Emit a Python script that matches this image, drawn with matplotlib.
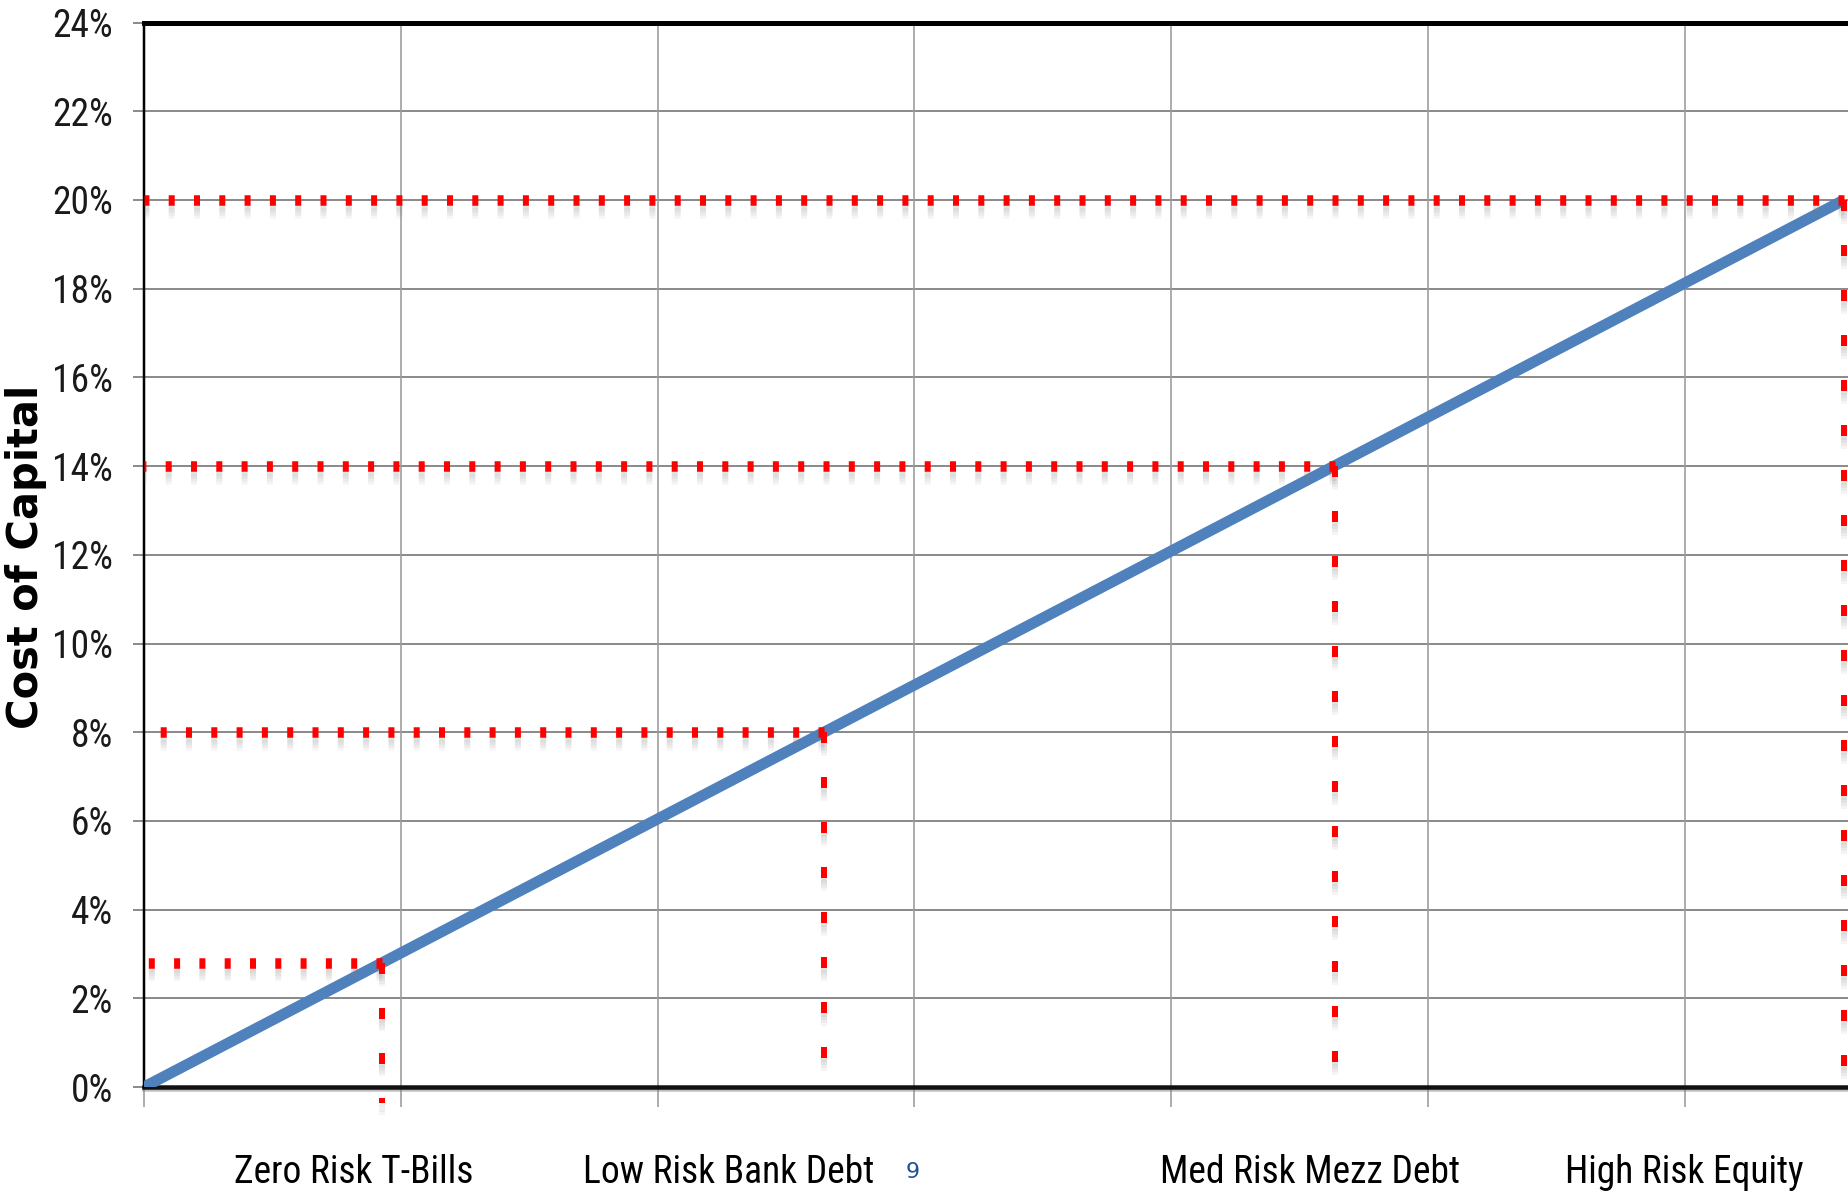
import matplotlib
matplotlib.use("Agg")
import matplotlib.pyplot as plt
import matplotlib.patheffects as pe
from matplotlib.ticker import FixedLocator, FuncFormatter

# ---- data -------------------------------------------------------------
# risk scale position and cost of capital for each funding source
risk_pos = [0.927, 2.649, 4.636, 6.62]
cost_pct = [2.8, 8.0, 14.0, 20.0]
# lower end of each vertical drop line (cost %)
drop_end = [-0.35, 0.0, 0.0, 0.0]
# left start of each horizontal guide line (risk scale)
guide_start = [0.0, 0.0, 0.0, 0.0]

# category captions along the bottom and where they sit on the risk scale
categories = ["Zero Risk T-Bills", "Low Risk Bank Debt", "Med Risk Mezz Debt", "High Risk Equity"]
category_pos = [0.818, 2.278, 4.54, 5.997]

y_ticks = list(range(0, 25, 2))
x_grid = [0, 1, 2, 3, 4, 5, 6]
page_number = "9"

# ---- style ------------------------------------------------------------
W, H, DPI = 1848, 1193, 100
PX = 72.0 / DPI  # points per pixel
plt.rcParams["lines.scale_dashes"] = False
narrow = ["Roboto Condensed", "DejaVu Sans Condensed", "Liberation Sans Narrow", "Liberation Sans"]

fig = plt.figure(figsize=(W / DPI, H / DPI), dpi=DPI, facecolor="white")
ax = fig.add_axes([144 / W, 1 - 1087 / H, 1 - 144 / W, (1087 - 22.6) / H])
ax.set_xlim(0, (W - 144) / 256.8)
ax.set_ylim(0, 24)

# grid
for v in y_ticks[1:-1]:
    ax.axhline(v, color="#8c8c8c", lw=2 * PX, zorder=1)
for v in x_grid[1:]:
    ax.axvline(v, color="#9a9a9a", lw=1.6 * PX, zorder=1)

# spines
for s in ("right", "bottom"):
    ax.spines[s].set_visible(False)
ax.spines["top"].set_linewidth(5 * PX)
ax.spines["top"].set_color("black")
ax.spines["left"].set_linewidth(2.5 * PX)
ax.spines["left"].set_color("black")
ax.axhline(0, color="#111111", lw=4.5 * PX, zorder=2, clip_on=False,
           path_effects=[pe.SimpleLineShadow(offset=(0, -1.5), shadow_color="gray", alpha=0.5),
                         pe.Normal()])

# ticks
ax.yaxis.set_major_locator(FixedLocator(y_ticks))
ax.yaxis.set_major_formatter(FuncFormatter(lambda v, _: f"{int(v)}%"))
ax.tick_params(axis="y", direction="out", length=11 * PX, width=2 * PX, color="#8c8c8c",
               pad=20 * PX, labelsize=27, labelcolor="#1a1a1a")
for lab in ax.get_yticklabels():
    lab.set_family(narrow)
ax.xaxis.set_major_locator(FixedLocator(x_grid))
ax.tick_params(axis="x", direction="out", length=20 * PX, width=1.6 * PX, color="#9a9a9a",
               labelbottom=False)

# cost of capital line
ax.plot([0, risk_pos[-1]], [0, cost_pct[-1]], color="#4F81BD", lw=11 * PX,
        solid_capstyle="butt", zorder=4)

# dotted red guides with soft drop shadow
def shadowed(offsets):
    eff = [pe.SimpleLineShadow(offset=(0, -o), shadow_color="#808080", alpha=0.08) for o in offsets]
    return eff + [pe.Normal()]

h_dash = (0, (6 * PX, 19.3 * PX))
v_dash = (0, (11 * PX, 34 * PX))
for x, y, x0, y1 in zip(risk_pos, cost_pct, guide_start, drop_end):
    ax.plot([x, x0], [y, y], color="red", lw=10.5 * PX, linestyle=h_dash,
            dash_capstyle="butt", zorder=5, clip_on=False,
            path_effects=shadowed([3, 5, 7, 9]))
    ax.plot([x, x], [y, y1], color="red", lw=6 * PX, linestyle=v_dash,
            dash_capstyle="butt", zorder=5, clip_on=False,
            path_effects=shadowed([3, 5, 7, 9]))

# category captions
for name, xp in zip(categories, category_pos):
    ax.text(xp, -2.165, name, ha="center", va="baseline", fontsize=27,
            family=narrow, color="black", clip_on=False)

fig.text(26 / W, 1 - 557 / H, "Cost of Capital", rotation=90, ha="center", va="center",
         fontsize=30, fontweight="bold", family="DejaVu Sans", color="black")
fig.text(913 / W, 1 - 1172 / H, page_number, ha="center", va="center",
         fontsize=16, family="DejaVu Sans", color="#1f4e99")

fig.savefig("out.png", dpi=DPI, facecolor="white")
